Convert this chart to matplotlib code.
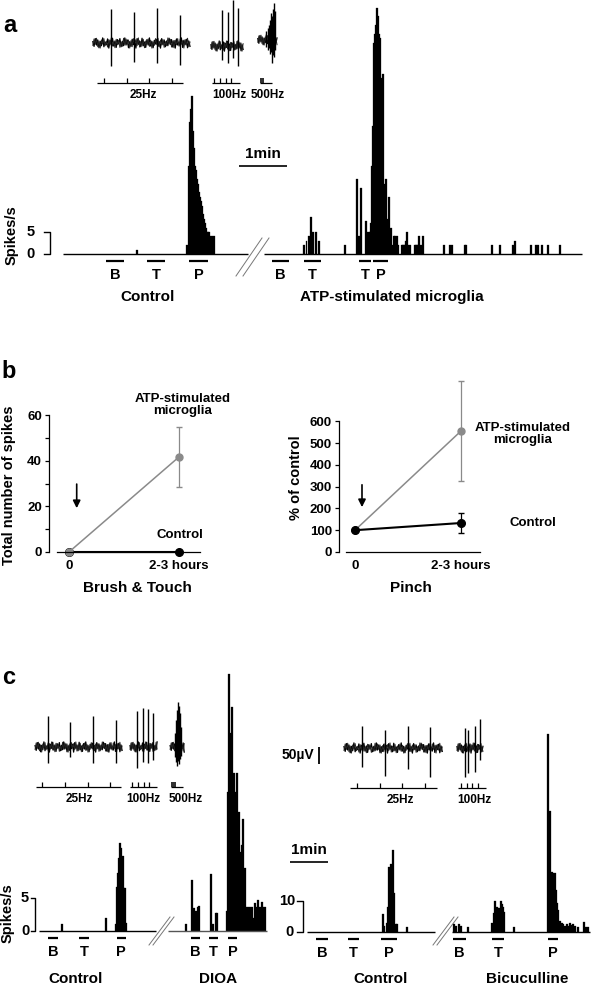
import numpy as np
import matplotlib.pyplot as plt

plt.rcParams['font.family'] = ['Liberation Sans', 'DejaVu Sans']
plt.rcParams['font.weight'] = 'bold'

W, H = 600, 986

# ---- raw traces (time in ms, amplitude in uV) ----
NOISE = [4, -10, 13, -6, 9, -14, 5, -8, 15, -11, 3, -5, 12, -15, 8, -4, 14, -9, 6, -13,
         10, -3, 13, -11, 5, -8, 15, -6, 9, -14, 4, -10, 11, -5, 8, -15, 13, -4, 6, -11,
         14, -8, 3, -13, 10, -6, 15, -9, 5, -14, 8, -3, 11, -10, 4, -15, 13, -5, 9, -11,
         6, -8, 14, -4, 10, -12, 7, -15, 12, -6, 3, -9, 15, -13, 8, -5, 11, -14, 6, -10,
         13, -4, 9, -12, 5, -15, 14, -7, 10, -11, 4, -8, 12, -13, 7, -5, 15, -10, 9, -6,
         11, -14, 5, -9, 13, -4, 8, -12, 14, -7]
NOISE2 = [-7, 12, -4, 14, -11, 6, -15, 9, -3, 13, -8, 5, -12, 10, -6, 15, -9, 4, -14, 11,
          -5, 8, -13, 3, -10, 14, -6, 12, -4, 9, -15, 7, -11, 13, -3, 10, -8, 15, -12, 5,
          -9, 11, -14, 6, -4, 12, -10, 8, -15, 3, -7, 13, -5, 14, -11, 9, -6, 10, -13, 4,
          -8, 15, -3, 11, -12, 6, -14, 8, -5, 13, -9, 12, -4, 7, -15, 10, -6, 14, -11, 3]

# panel a
A25_SPK = [37, 78, 119, 159]
A25_UP = [100, 91, 103, 82]
A25_DOWN = [-68, -56, -59, -65]
A100_SPK = [234, 244, 253, 262]
A100_UP = [106, 100, 135, 112]
A100_DOWN = [-41, -50, -35, -59]
A500_SPK = [311, 315, 317, 319, 320, 322, 324, 326, 327]
A500_UP = [25, 35, 45, 60, 79, 70, 91, 109, 85]
A500_DOWN = [-20, -30, -25, -40, -35, -68, -45, -50, -30]
A25_STIM = [25, 65, 105, 145]
A100_STIM = [220, 230, 240, 250]

# panel c, left (control / DIOA)
C25_SPK = [32, 71, 111, 152]
C25_UP = [91, 74, 91, 79]
C25_DOWN = [-47, -29, -47, -47]
C100_SPK = [189, 200, 209, 218]
C100_UP = [106, 115, 112, 100]
C100_DOWN = [-62, -44, -47, -38]
C500_SPK = [256, 258, 260, 262, 264, 266, 268]
C500_UP = [40, 80, 110, 132, 120, 100, 60]
C500_DOWN = [-30, -45, -56, -40, -50, -35, -25]
C25_STIM = [22, 62, 102, 142]
C100_STIM = [181, 191, 201, 211]

# panel c, right (control / bicuculline)
D25_SPK = [39, 80, 120, 159]
D25_UP = [65, 53, 65, 62]
D25_DOWN = [-56, -82, -62, -85]
D100_SPK = [221, 227, 239, 248]
D100_UP = [59, 53, 65, 85]
D100_DOWN = [-85, -74, -71, -35]
D25_STIM = [30, 70, 110, 150]
D100_STIM = [214, 224, 234, 244]

# ---- spike-rate histograms (time in s, spikes/s) ----
CTRL_A_T = [92.5, 155, 157.5, 159, 160, 161, 162.5, 164, 165, 166, 167.5, 169, 170,
            171, 172.5, 174, 175, 176, 177.5, 179, 180, 181, 182.5, 184, 186, 189]
CTRL_A_RATE = [1, 2, 20, 30, 33, 36, 28, 24, 20, 19, 17, 16, 14,
               13, 12, 11, 9, 8, 7, 6, 5, 5, 5, 4, 4, 4]
CTRL_A_STIM = [('B', 54, 76), ('T', 105, 128), ('P', 158, 181)]

ATP_A_T = [50, 53, 56, 59, 61, 65, 69, 101, 116, 119, 121,
           127.5, 129, 130, 131, 132.5, 134,
           135, 136, 137.5, 139, 140, 141, 142.5, 144, 145, 146, 147.5, 149, 150, 151,
           152.5, 154, 155, 156, 157.5, 159,
           161, 162.5, 164, 165, 166, 167.5,
           172.5, 174, 175, 176, 177.5, 179, 180, 182.5,
           189, 190, 191, 192.5, 194, 196, 199,
           225, 232.5, 235, 251, 252.5, 285, 295, 311, 314, 334, 340, 342.5, 347.5, 355, 370]
ATP_A_RATE = [2, 3, 4, 8.5, 5, 5, 3, 2, 17, 4, 15,
              7.5, 5, 4, 5, 5, 7,
              20, 29, 48, 50, 52, 56, 54, 50, 49, 34, 40, 41, 16, 12,
              17, 8, 6, 13, 5, 6,
              2, 4, 4, 3, 4, 2,
              2, 2, 2, 2, 3, 5, 2, 2,
              2, 2, 2, 2, 4, 2, 4,
              2, 2, 2, 2, 2, 2, 2, 2, 3, 2, 2, 2, 2, 2, 2]
ATP_A_STIM = [('B', 10, 31), ('T', 50, 71), ('T', 119, 134), ('P', 136, 155)]

CTRL_C1_T = [36, 106, 122, 123, 125, 126, 128, 130, 131, 133, 134, 136, 137]
CTRL_C1_RATE = [1, 2, 1, 6.7, 8.8, 11, 13.3, 12.6, 8, 11.4, 6.5, 6.5, 1.2]
CTRL_C1_STIM = [('B', 14, 30), ('T', 63, 79), ('P', 123, 137)]

DIOA_T = [28, 38, 39.5, 41, 43, 44, 46, 47, 49, 68, 71, 76, 77,
          93, 95, 96.5, 98, 100, 101, 103, 104, 106, 107, 109, 111, 112, 114, 115, 117, 118, 120, 122,
          123, 125, 126, 128, 129.5, 131, 133, 136, 137, 139, 140.5, 142, 144, 145, 147, 148.5, 150, 152, 153]
DIOA_RATE = [1, 7.7, 2, 3.5, 2, 3, 2, 3.6, 3.8, 8.6, 1, 2.7, 2.8,
             3, 21, 39, 18, 30, 34, 14, 24, 21, 17, 24, 15, 18, 12, 10, 13, 17, 9, 9.5,
             3.6, 2, 3.6, 2, 3.6, 2, 3.6, 2, 4.2, 2, 3.6, 4.7, 2, 3.6, 2, 4.4, 3.6, 2, 3.6]
DIOA_STIM = [('B', 36, 51), ('T', 65, 79), ('P', 95, 109)]

CTRL_C2_T = [120, 122, 126, 128, 130, 133, 134, 136, 137, 141, 142, 158]
CTRL_C2_RATE = [5.8, 2, 3, 8, 21, 22, 19.4, 26.5, 12.6, 2.6, 2.6, 1.5]
CTRL_C2_STIM = [('B', 14, 33), ('T', 65, 82), ('P', 117, 142)]

BIC_T = [3, 6, 11, 14, 25, 63, 66, 68, 71, 73, 74, 76, 77, 79, 81, 82, 98,
         152, 155, 158, 160, 163, 164, 166, 167, 171, 174, 175, 179, 182, 183, 186,
         190, 191, 194, 199, 209, 212, 215]
BIC_RATE = [2.5, 2, 2.5, 2, 1.5, 3, 6, 10, 8, 7.7, 6.8, 7.7, 10, 9, 8, 6.5, 1.5,
            64, 39, 19.5, 19, 19, 13.5, 9.4, 7, 3.5, 3, 2.5, 2, 2.5, 2, 3,
            2.4, 2.5, 2, 1.5, 3.2, 1.5, 1.5]
BIC_STIM = [('B', 2, 22), ('T', 63, 82), ('P', 152, 167)]

# ---- panel b ----
TIME_B = [0, 1]
TIME_LABELS = ['0', '2-3 hours']
BT_CTRL = [0, 0]
BT_ATP = [0, 41.7]
BT_ATP_ERR = [0, 13]
PINCH_CTRL = [100, 133]
PINCH_CTRL_ERR = [0, 47]
PINCH_ATP = [100, 555]
PINCH_ATP_ERR = [0, 230]

GRAY = '#8a8a8a'

fig = plt.figure(figsize=(W / 100, H / 100), dpi=100)


def px_axes(x0, y0, x1, y1):
    ax = fig.add_axes([x0 / W, 1 - y1 / H, (x1 - x0) / W, (y1 - y0) / H])
    ax.patch.set_visible(False)
    return ax


ov = px_axes(0, 0, W, H)
ov.set_xlim(0, W)
ov.set_ylim(H, 0)
ov.axis('off')

PX_MS = 0.565   # trace time scale
PX_UV = 0.34    # trace amplitude scale


def trace_axes(x0, x1, yc):
    ax = px_axes(x0, yc - 60, x1, yc + 60)
    ax.set_xlim(0, (x1 - x0) / PX_MS)
    ax.set_ylim(-60 / PX_UV, 60 / PX_UV)
    ax.axis('off')
    return ax


def draw_trace(ax, t0, t1, spk, up, down, offset=0):
    n = min(len(NOISE2), max(10, int((t1 - t0) * PX_MS)))
    tt = np.linspace(t0, t1, n)
    ax.plot(tt, np.array(NOISE[:n]) + offset, color='black', lw=0.9, clip_on=False)
    ax.plot(tt, np.array(NOISE2[:n]) + offset, color='#222222', lw=0.7, clip_on=False)
    ax.vlines(spk, np.array(down) + offset, np.array(up) + offset,
              color='black', lw=1.0, clip_on=False)


def draw_stim(ax, t0, t1, ticks=None, box=None, label=None, lx=None):
    y = -117
    ax.hlines(y, t0, t1, color='black', lw=0.9, clip_on=False)
    if ticks is not None:
        ax.vlines(ticks, y, y + 15, color='black', lw=0.9, clip_on=False)
    if box is not None:
        ax.bar(box[0], 13, width=box[1], bottom=y, align='edge',
               color='#333333', lw=0, clip_on=False)
    if label:
        ax.text(lx, -152, label, ha='center', va='center', fontsize=8.5)


def draw_hist(x0, x1, base, px_s, px_u, t, rate, stim, base_color='black'):
    ax = px_axes(x0, 0, x1, base)
    ax.set_xlim(0, (x1 - x0) / px_s)
    ax.set_ylim(0, base / px_u)
    ax.axis('off')
    ax.bar(t, rate, width=1.7 / px_s, color='black', edgecolor='black',
           linewidth=0.2, clip_on=False)
    ax.hlines(0, 0, (x1 - x0) / px_s, color=base_color, lw=1.0, clip_on=False)
    for name, s0, s1 in stim:
        ax.hlines(-7 / px_u, s0, s1, color='black', lw=1.6, clip_on=False)
        ax.text((s0 + s1) / 2, -21 / px_u, name, ha='center', va='center', fontsize=10.5)
    return ax


# ================= panel a =================
ov.text(10, 26, 'a', fontsize=17, ha='center', va='center')
ta = trace_axes(90, 290, 43)
draw_trace(ta, 5, 177, A25_SPK, A25_UP, A25_DOWN)
draw_trace(ta, 214, 271, A100_SPK, A100_UP, A100_DOWN, offset=-9)
draw_trace(ta, 297, 331, A500_SPK, A500_UP, A500_DOWN, offset=9)
draw_stim(ta, 12, 165, A25_STIM, label='25Hz', lx=94)
draw_stim(ta, 216, 265, A100_STIM, label='100Hz', lx=246)
draw_stim(ta, 301, 322, box=(301, 7), label='500Hz', lx=315)

hc = draw_hist(63, 248, 254, 0.8, 4.4, CTRL_A_T, CTRL_A_RATE, CTRL_A_STIM)
draw_hist(264, 582, 254, 0.8, 4.4, ATP_A_T, ATP_A_RATE, ATP_A_STIM)
# scale bars
hc.plot([-23.75, -16.25, -16.25, -23.75], [5, 5, 0, 0], color='black', lw=1.0, clip_on=False)
hc.text(-41, 5, '5', ha='center', va='center', fontsize=10.5)
hc.text(-41, 0, '0', ha='center', va='center', fontsize=10.5)
hc.hlines(20, 220, 280, color='black', lw=1.2, clip_on=False)
hc.text(250, 22.8, '1min', ha='center', va='center', fontsize=11)
ov.text(12, 235, 'Spikes/s', rotation=90, ha='center', va='center', fontsize=10.5)
for dx in (0, 7):
    ov.plot([236 + dx, 262 + dx], [276, 238], color='#777777', lw=0.7)
ov.text(148, 297, 'Control', ha='center', va='center', fontsize=11)
ov.text(392, 297, 'ATP-stimulated microglia', ha='center', va='center', fontsize=11)

# ================= panel b =================
ov.text(9, 372, 'b', fontsize=17, ha='center', va='center')


def style_b(ax, ybounds, xlow, xhigh):
    for s in ('top', 'right'):
        ax.spines[s].set_visible(False)
    ax.spines['left'].set_bounds(*ybounds)
    ax.spines['bottom'].set_bounds(xlow, xhigh)
    for s in ('left', 'bottom'):
        ax.spines[s].set_linewidth(0.9)
    ax.set_xticks(TIME_B)
    ax.set_xticklabels(TIME_LABELS)
    ax.tick_params(axis='x', length=0, pad=6, labelsize=9.5)
    ax.tick_params(axis='y', which='both', direction='out', length=3, width=0.9,
                   pad=2, labelsize=9.5)


axL = px_axes(49, 395, 200, 552)
axL.set_xlim((49 - 69) / 110, (200 - 69) / 110)
axL.set_ylim(0, 157 / 2.28)
style_b(axL, (0, 60), (57 - 69) / 110, (200 - 69) / 110)
axL.set_yticks([0, 20, 40, 60])
axL.set_yticks([10, 30, 50], minor=True)
axL.errorbar(TIME_B, BT_ATP, yerr=BT_ATP_ERR, color=GRAY, lw=1.1, marker='o', ms=5,
             capsize=2.5, elinewidth=0.9, clip_on=False)
axL.plot(TIME_B, BT_CTRL, color='black', lw=1.5, marker='o', ms=5.5, clip_on=False)
axL.annotate('', xy=(0.07, 18), xytext=(0.07, 31),
             arrowprops=dict(arrowstyle='-|>', color='black', lw=1.2, mutation_scale=11))
axL.text(1.03, 64.5, 'ATP-stimulated\nmicroglia', ha='center', va='center',
         fontsize=9.5, linespacing=1.0)
axL.text(1.01, 7.5, 'Control', ha='center', va='center', fontsize=9.5)
ov.text(9, 485, 'Total number of spikes', rotation=90, ha='center', va='center', fontsize=10.5)
ov.text(137, 588, 'Brush & Touch', ha='center', va='center', fontsize=11)

axR = px_axes(339, 370, 480, 552)
axR.set_xlim((339 - 355) / 106, (480 - 355) / 106)
axR.set_ylim(0, 182 / 0.218)
style_b(axR, (0, 600), (346 - 355) / 106, (480 - 355) / 106)
axR.set_yticks([0, 100, 200, 300, 400, 500, 600])
axR.errorbar(TIME_B, PINCH_ATP, yerr=PINCH_ATP_ERR, color=GRAY, lw=1.1, marker='o', ms=5,
             capsize=2.5, elinewidth=0.9, clip_on=False)
axR.errorbar(TIME_B, PINCH_CTRL, yerr=PINCH_CTRL_ERR, color='black', lw=1.5, marker='o',
             ms=5.5, capsize=2.5, elinewidth=0.9, clip_on=False)
axR.annotate('', xy=(0.066, 193), xytext=(0.066, 321),
             arrowprops=dict(arrowstyle='-|>', color='black', lw=1.2, mutation_scale=11))
axR.text(1.58, 541, 'ATP-stimulated\nmicroglia', ha='center', va='center',
         fontsize=9.5, linespacing=1.0)
axR.text(1.68, 133, 'Control', ha='center', va='center', fontsize=9.5)
ov.text(296, 478, '% of control', rotation=90, ha='center', va='center', fontsize=10.5)
ov.text(411, 588, 'Pinch', ha='center', va='center', fontsize=11)

# ================= panel c =================
ov.text(9, 677, 'c', fontsize=17, ha='center', va='center')
tc = trace_axes(30, 200, 747)
draw_trace(tc, 9, 163, C25_SPK, C25_UP, C25_DOWN)
draw_trace(tc, 177, 225, C100_SPK, C100_UP, C100_DOWN)
draw_trace(tc, 248, 273, C500_SPK, C500_UP, C500_DOWN)
draw_stim(tc, 11, 161, C25_STIM, label='25Hz', lx=88)
draw_stim(tc, 177, 225, C100_STIM, label='100Hz', lx=200)
draw_stim(tc, 250, 271, box=(250, 8), label='500Hz', lx=276)

td = trace_axes(340, 500, 748)
draw_trace(td, 7, 181, D25_SPK, D25_UP, D25_DOWN)
draw_trace(td, 207, 253, D100_SPK, D100_UP, D100_DOWN)
draw_stim(td, 18, 172, D25_STIM, label='25Hz', lx=106)
draw_stim(td, 209, 258, D100_STIM, label='100Hz', lx=237)
td.vlines(-37, -47, 3, color='black', lw=1.3, clip_on=False)
td.text(-74, -22, '50µV', ha='center', va='center', fontsize=10)

PXS_C = 0.633
hl = draw_hist(39, 156, 931, PXS_C, 6.6, CTRL_C1_T, CTRL_C1_RATE, CTRL_C1_STIM)
draw_hist(168, 267, 931, PXS_C, 6.6, DIOA_T, DIOA_RATE, DIOA_STIM, base_color='#555555')
hr = draw_hist(307, 435, 932, PXS_C, 3.1, CTRL_C2_T, CTRL_C2_RATE, CTRL_C2_STIM)
draw_hist(452, 590, 932, PXS_C, 3.1, BIC_T, BIC_RATE, BIC_STIM)

hl.plot([-12.6, -6.3, -6.3, -12.6], [5, 5, 0, 0], color='black', lw=1.0, clip_on=False)
hl.text(-22, 5, '5', ha='center', va='center', fontsize=10.5)
hl.text(-22, 0, '0', ha='center', va='center', fontsize=10.5)
hr.plot([-15.8, -6.3, -6.3, -15.8], [10, 10, 0, 0], color='black', lw=1.0, clip_on=False)
hr.text(-31.6, 10, '10', ha='center', va='center', fontsize=10.5)
hr.text(-28.4, 0, '0', ha='center', va='center', fontsize=10.5)
hr.hlines(22.6, -26.9, 33.1, color='black', lw=1.2, clip_on=False)
hr.text(3.1, 26.3, '1min', ha='center', va='center', fontsize=11)

ov.text(8, 913, 'Spikes/s', rotation=90, ha='center', va='center', fontsize=10.5)
for dx in (0, 4):
    ov.plot([149 + dx, 170 + dx], [945, 917], color='#777777', lw=0.7)
    ov.plot([433 + dx, 454 + dx], [945, 917], color='#777777', lw=0.7)
ov.text(76, 979, 'Control', ha='center', va='center', fontsize=11)
ov.text(218, 979, 'DIOA', ha='center', va='center', fontsize=11)
ov.text(381, 979, 'Control', ha='center', va='center', fontsize=11)
ov.text(527, 979, 'Bicuculline', ha='center', va='center', fontsize=11)

fig.savefig('out.png', dpi=100)
